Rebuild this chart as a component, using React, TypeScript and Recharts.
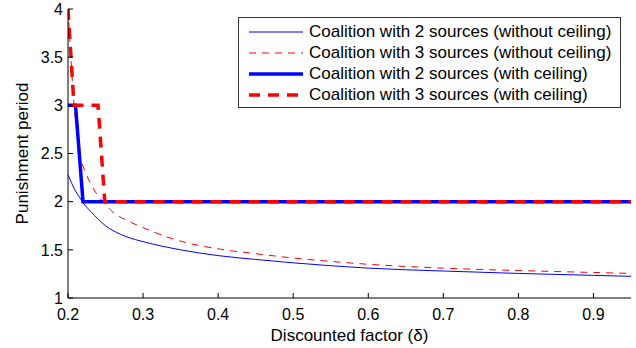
import { LineChart, Line, XAxis, YAxis } from "recharts";

const xTicks = [0.2, 0.3, 0.4, 0.5, 0.6, 0.7, 0.8, 0.9];
const yTicks = [1, 1.5, 2, 2.5, 3, 3.5, 4];

// discount factor samples for the "without ceiling" curves
const curveDelta = [
  0.2, 0.205, 0.208, 0.21, 0.215, 0.22, 0.23, 0.24, 0.25, 0.26, 0.28, 0.3, 0.35, 0.4, 0.45, 0.5, 0.55, 0.6,
  0.7, 0.8, 0.9, 0.95,
];
const twoNoCeiling = [
  2.28, 2.19, 2.14, 2.11, 2.05, 1.99, 1.9, 1.82, 1.75, 1.7, 1.63, 1.585, 1.5, 1.44, 1.4, 1.365, 1.335, 1.31,
  1.28, 1.255, 1.235, 1.225,
];
const threeNoCeiling = [
  4.0, 3.35, 3.0, 2.85, 2.5, 2.37, 2.19, 2.06, 1.97, 1.89, 1.8, 1.73, 1.59, 1.51, 1.46, 1.415, 1.38, 1.35,
  1.31, 1.285, 1.265, 1.255,
];

const twoCeilDelta = [0.2, 0.21, 0.22, 0.95];
const twoCeiling = [3, 3, 2, 2];
const threeCeilDelta = [0.2, 0.208, 0.24, 0.249, 0.95];
const threeCeiling = [4, 3, 3, 2, 2];

const zip = (xs: number[], ys: number[]) => xs.map((d, i) => ({ d, v: ys[i] }));

const FONT = "'Liberation Sans', Arial, Helvetica, sans-serif";

const legendItems = [
  { label: "Coalition with 2 sources (without ceiling)", color: "#0000ff", width: 1, dash: undefined },
  { label: "Coalition with 3 sources (without ceiling)", color: "#ff0000", width: 1, dash: "7 6" },
  { label: "Coalition with 2 sources (with ceiling)", color: "#0000ff", width: 3.5, dash: undefined },
  { label: "Coalition with 3 sources (with ceiling)", color: "#ff0000", width: 3.5, dash: "11 8" },
];

// drawn over the chart so it takes no room from the plot area
function LegendBox() {
  return (
    <div
      style={{
        position: "absolute",
        left: 238,
        top: 17,
        width: 383,
        height: 91,
        boxSizing: "border-box",
        border: "1px solid #333",
        background: "#fff",
        padding: "3px 0 0 10px",
        fontFamily: FONT,
        fontSize: 17,
        color: "#000",
      }}
    >
      {legendItems.map((it) => (
        <div key={it.label} style={{ display: "flex", alignItems: "center", height: 21 }}>
          <svg width={54} height={10} style={{ marginRight: 6, flexShrink: 0 }}>
            <line
              x1={0}
              x2={54}
              y1={5}
              y2={5}
              stroke={it.color}
              strokeWidth={it.width}
              strokeDasharray={it.dash}
            />
          </svg>
          <span style={{ whiteSpace: "nowrap" }}>{it.label}</span>
        </div>
      ))}
    </div>
  );
}

export default function App() {
  return (
    <div style={{ position: "absolute", left: 0, top: 0, width: 636, height: 348, background: "#fff" }}>
      <LineChart width={636} height={348} margin={{ top: 9, right: 5, bottom: 0, left: 0 }}>
        <XAxis
          dataKey="d"
          type="number"
          domain={[0.2, 0.95]}
          ticks={xTicks}
          allowDataOverflow
          height={50}
          tickSize={-5}
          tickMargin={16}
          stroke="#000"
          tick={{ fill: "#000", fontSize: 16, fontFamily: FONT }}
          label={{
            value: "Discounted factor (δ)",
            position: "insideBottom",
            offset: 7,
            fill: "#000",
            fontSize: 17,
            fontFamily: FONT,
          }}
        />
        <YAxis
          type="number"
          domain={[1, 4]}
          ticks={yTicks}
          allowDataOverflow
          width={68}
          tickSize={-5}
          tickMargin={10}
          stroke="#000"
          tick={{ fill: "#000", fontSize: 16, fontFamily: FONT }}
          label={{
            value: "Punishment period",
            angle: -90,
            position: "insideLeft",
            offset: 22,
            fill: "#000",
            fontSize: 17,
            fontFamily: FONT,
            style: { textAnchor: "middle" },
          }}
        />
        <Line
          data={zip(curveDelta, twoNoCeiling)}
          dataKey="v"
          type="monotone"
          stroke="#0000ff"
          strokeWidth={1}
          dot={false}
          isAnimationActive={false}
        />
        <Line
          data={zip(curveDelta, threeNoCeiling)}
          dataKey="v"
          type="monotone"
          stroke="#ff0000"
          strokeWidth={1}
          strokeDasharray="7 6"
          dot={false}
          isAnimationActive={false}
        />
        <Line
          data={zip(twoCeilDelta, twoCeiling)}
          dataKey="v"
          type="linear"
          stroke="#0000ff"
          strokeWidth={3.5}
          dot={false}
          isAnimationActive={false}
        />
        <Line
          data={zip(threeCeilDelta, threeCeiling)}
          dataKey="v"
          type="linear"
          stroke="#ff0000"
          strokeWidth={3.5}
          strokeDasharray="11 8"
          dot={false}
          isAnimationActive={false}
        />
      </LineChart>
      <LegendBox />
    </div>
  );
}
